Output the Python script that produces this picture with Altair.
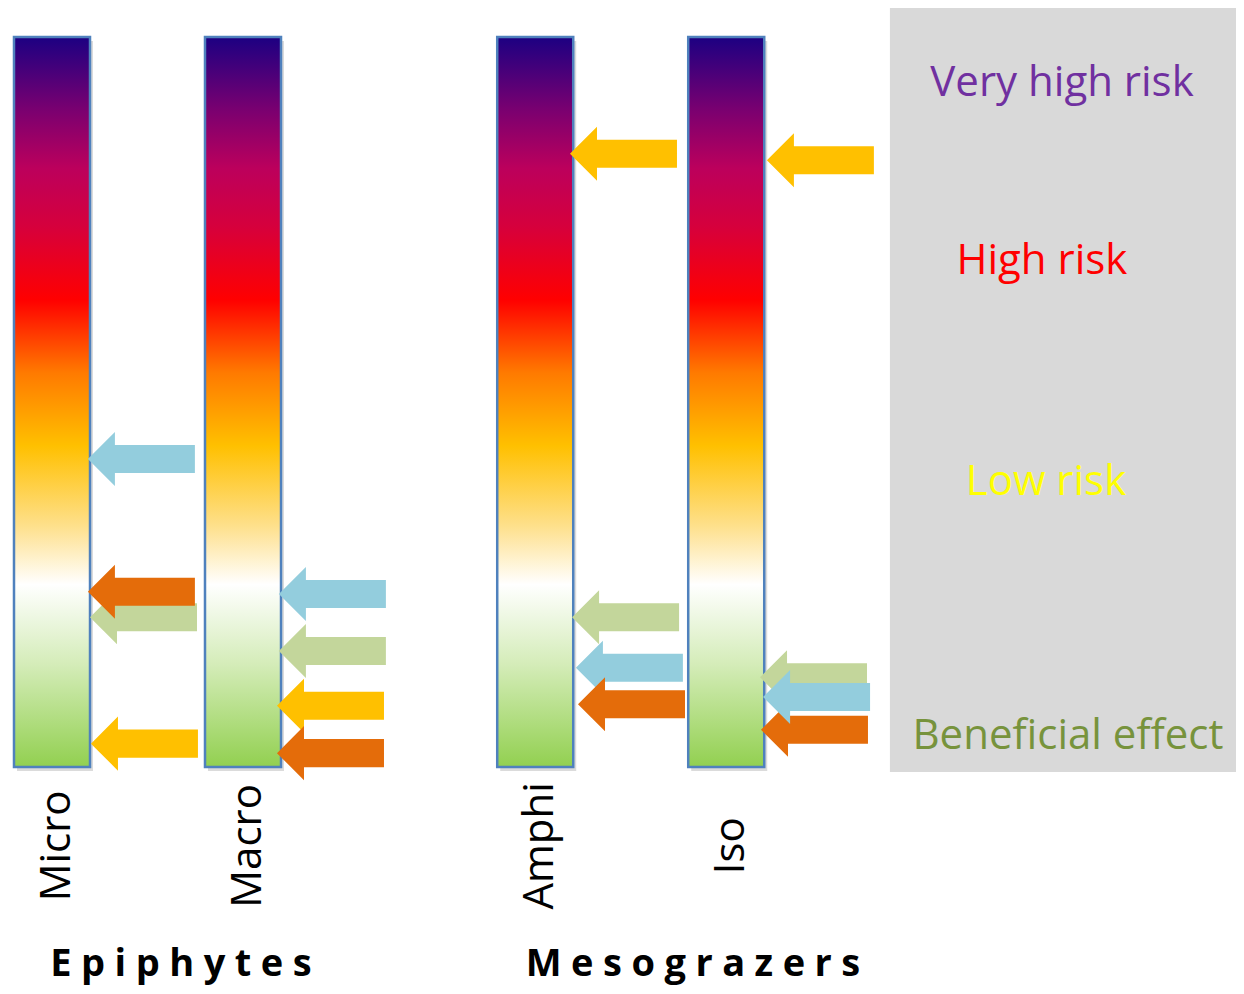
import altair as alt
import pandas as pd

# ---- data -------------------------------------------------------------
bar_names = ["Micro", "Macro", "Amphi", "Iso"]
bar_pos = [0.0, 1.0, 2.53, 3.53]          # column position of each bar
bar_half = 0.199                          # half bar width (column units)
risk_min, risk_max = 0.0, 100.0           # beneficial .. very high risk
label_shift = 0.025

group_names = ["Epiphytes", "Mesograzers"]
group_pos = [0.675, 3.356]

# arrows: which bar, colour series, risk score, tip position
arrow_bar = ["Micro", "Micro", "Micro", "Micro",
             "Macro", "Macro", "Macro", "Macro",
             "Amphi", "Amphi", "Amphi", "Amphi",
             "Iso", "Iso", "Iso", "Iso"]
arrow_series = ["blue", "green", "orange", "yellow",
                "blue", "green", "yellow", "orange",
                "yellow", "green", "blue", "orange",
                "yellow", "green", "orange", "blue"]
arrow_risk = [42.2, 20.5, 24.0, 3.2,
              23.7, 15.9, 8.4, 1.9,
              84.0, 20.5, 13.6, 8.6,
              83.1, 12.3, 5.1, 9.6]
arrow_tip = [0.188, 0.199, 0.188, 0.204,
             1.188, 1.188, 1.178, 1.178,
             2.712, 2.723, 2.743, 2.754,
             3.743, 3.707, 3.712, 3.723]
arrow_half_len = 0.280

series_names = ["blue", "orange", "green", "yellow"]
series_colors = ["#93cddd", "#e46c0a", "#c3d69b", "#ffc000"]

risk_labels = ["Very high risk", "High risk", "Low risk", "Beneficial effect"]
risk_label_score = [93.7, 69.3, 39.0, 4.3]
risk_label_x = [5.288, 5.183, 5.204, 5.319]
risk_label_colors = ["#7030a0", "#ff0000", "#ffff00", "#77933c"]

box_x = [4.387]
box_x2 = [6.199]
box_y = [-0.68]
box_y2 = [103.97]

label_score = -10.8
title_score = -27.1

x_dom = [-0.2304, 6.199]
y_dom = [-30.0, 103.97]

# ---- tables -----------------------------------------------------------
bars_df = pd.DataFrame({
    "name": bar_names,
    "x0": [p - bar_half for p in bar_pos],
    "x1": [p + bar_half for p in bar_pos],
    "y0": risk_min, "y1": risk_max,
    "pos": [p + label_shift for p in bar_pos],
    "ly": label_score,
})
arrows_df = pd.DataFrame({
    "bar": arrow_bar, "series": arrow_series, "risk": arrow_risk,
    "cx": [t + arrow_half_len for t in arrow_tip],
    "order": list(range(len(arrow_bar))),
})
groups_df = pd.DataFrame({
    "name": ["\u2005".join(list(g)) for g in group_names],
    "x": group_pos, "y": title_score,
})
risk_df = pd.DataFrame({
    "label": risk_labels, "x": risk_label_x, "y": risk_label_score,
    "c": risk_label_colors,
})
box_df = pd.DataFrame({"x": box_x, "x2": box_x2, "y": box_y, "y2": box_y2})

X = lambda f: alt.X(f, type="quantitative", scale=alt.Scale(domain=x_dom, nice=False, zero=False), axis=None)
Y = lambda f: alt.Y(f, type="quantitative", scale=alt.Scale(domain=y_dom, nice=False, zero=False), axis=None)

gradient = alt.Gradient(
    gradient="linear", x1=0, y1=0, x2=0, y2=1,
    stops=[
        alt.GradientStop(offset=0.00, color="#1c0082"),
        alt.GradientStop(offset=0.10, color="#7a0070"),
        alt.GradientStop(offset=0.18, color="#bc005c"),
        alt.GradientStop(offset=0.26, color="#d6003c"),
        alt.GradientStop(offset=0.36, color="#ff0000"),
        alt.GradientStop(offset=0.46, color="#ff7a00"),
        alt.GradientStop(offset=0.56, color="#ffc000"),
        alt.GradientStop(offset=0.67, color="#fee08c"),
        alt.GradientStop(offset=0.75, color="#ffffff"),
        alt.GradientStop(offset=0.86, color="#d4ecb8"),
        alt.GradientStop(offset=1.00, color="#92d050"),
    ],
)

box = alt.Chart(box_df).mark_rect(color="#d9d9d9").encode(
    x=X("x"), x2="x2", y=Y("y"), y2="y2")

shadow = alt.Chart(bars_df).mark_rect(
    color="#b0b0b0", opacity=0.45, xOffset=3, x2Offset=3, yOffset=4, y2Offset=4
).encode(x=X("x0"), x2="x1", y=Y("y0"), y2="y1")

bars = alt.Chart(bars_df).mark_rect(
    fill=gradient, stroke="#4f81bd", strokeWidth=2.5
).encode(x=X("x0"), x2="x1", y=Y("y0"), y2="y1")

arrow_path = ("M -1 0 L -0.495 -0.505 L -0.495 -0.262 L 1 -0.262 "
              "L 1 0.262 L -0.495 0.262 L -0.495 0.505 Z")
arrows = alt.Chart(arrows_df).mark_point(
    shape=arrow_path, filled=True, opacity=1, size=11449, strokeWidth=0
).encode(
    x=X("cx"), y=Y("risk"),
    color=alt.Color("series:N", scale=alt.Scale(domain=series_names, range=series_colors), legend=None),
    order="order:Q",
)

bar_labels = alt.Chart(bars_df).mark_text(
    angle=270, font="Open Sans", fontSize=42, color="black",
    align="center", baseline="middle"
).encode(x=X("pos"), y=Y("ly"), text="name:N")

titles = alt.Chart(groups_df).mark_text(
    font="Open Sans", fontSize=38, fontWeight="bold", color="black",
    align="center", baseline="middle"
).encode(x=X("x"), y=Y("y"), text="name:N")

risk_text = alt.Chart(risk_df).mark_text(
    font="Open Sans", fontSize=42, align="center", baseline="middle"
).encode(x=X("x"), y=Y("y"), text="label:N",
         color=alt.Color("c:N", scale=None, legend=None))

chart = alt.layer(box, shadow, bars, arrows, bar_labels, titles, risk_text).properties(
    width=1228, height=978,
    autosize=alt.AutoSizeParams(type="fit", contains="padding"),
    padding=0,
).configure_view(strokeWidth=0, stroke=None)

chart.save("out.html", embed_options={"renderer": "svg", "actions": False})
